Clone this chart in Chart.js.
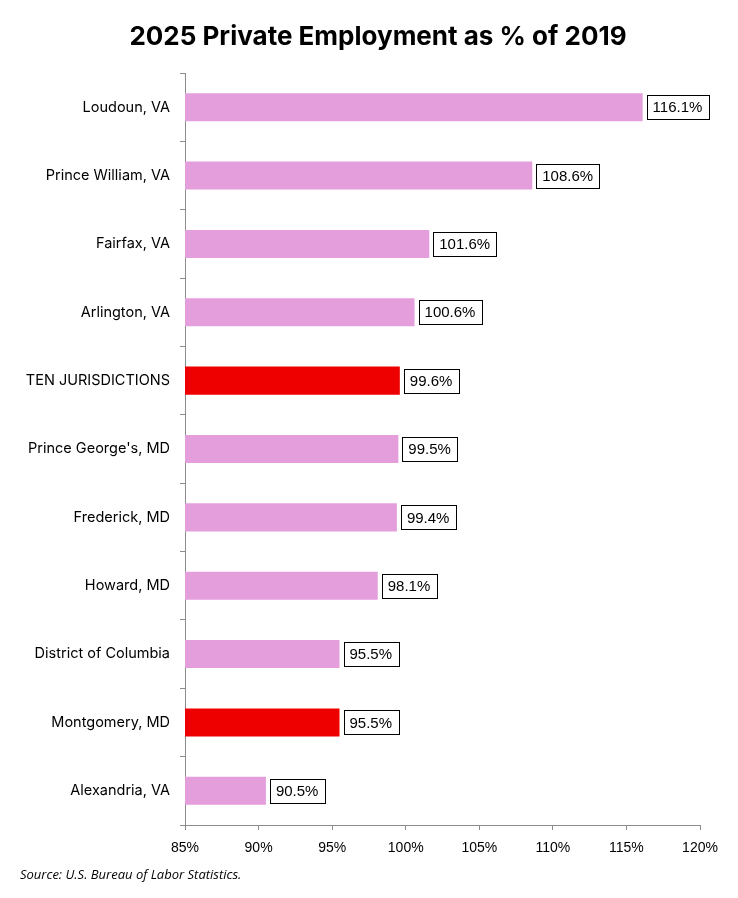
<!DOCTYPE html>
<html>
<head>
<meta charset="utf-8">
<script src="https://cdn.jsdelivr.net/npm/chart.js@4"></script>
<style>
html,body{margin:0;padding:0;background:#fff;}
#wrap{width:738px;height:898px;position:relative;}
</style>
</head>
<body>
<div id="wrap"><canvas id="mainChart"></canvas></div>
<script>
// data
const categories = ["Loudoun, VA","Prince William, VA","Fairfax, VA","Arlington, VA","TEN JURISDICTIONS",
  "Prince George's, MD","Frederick, MD","Howard, MD","District of Columbia","Montgomery, MD","Alexandria, VA"];
const values = [116.1,108.6,101.6,100.6,99.6,99.5,99.4,98.1,95.5,95.5,90.5];
const highlighted = ["TEN JURISDICTIONS","Montgomery, MD"];
const xTicks = [85,90,95,100,105,110,115,120];

const PINK = "#E49EDC", RED = "#EE0000", AXIS = "#8C8C8C";
const FONT = "Inter, 'Noto Sans', sans-serif";
const NUMFONT = "'Liberation Sans', Arial, sans-serif";

let barColors = categories.map(c => highlighted.includes(c) ? RED : PINK);

// boxed value labels at bar end
const boxLabels = {
  id:"boxLabels",
  afterDatasetsDraw(chart){
    let ctx = chart.ctx;
    let meta = chart.getDatasetMeta(0);
    ctx.save();
    ctx.font = "15px " + NUMFONT;
    ctx.textBaseline = "middle";
    meta.data.forEach((bar,i)=>{
      let txt = values[i].toFixed(1) + "%";
      let w = ctx.measureText(txt).width + 12;
      let h = 24;
      let x = bar.x + 4, y = bar.y - h/2;
      ctx.fillStyle = "#fff";
      ctx.fillRect(x,y,w,h);
      ctx.strokeStyle = "#000";
      ctx.lineWidth = 1;
      ctx.strokeRect(Math.round(x)+0.5,Math.round(y)+0.5,Math.round(w),h);
      ctx.fillStyle = "#000";
      ctx.fillText(txt, x+6, bar.y+1);
    });
    ctx.restore();
  }
};

// title centred on the page and the source note
const texts = {
  id:"texts",
  afterDraw(chart){
    let ctx = chart.ctx;
    ctx.save();
    ctx.fillStyle = "#000";
    ctx.textBaseline = "middle";
    ctx.textAlign = "center";
    ctx.font = "bold 26px " + FONT;
    ctx.fillText("2025 Private Employment as % of 2019", 378, 37);
    ctx.textAlign = "left";
    ctx.font = "italic 13px 'Open Sans', sans-serif";
    ctx.fillText("Source: U.S. Bureau of Labor Statistics.", 20, 875);
    ctx.restore();
  }
};

new Chart(document.getElementById("mainChart"), {
  type:"bar",
  data:{
    labels:categories,
    datasets:[{
      data:values,
      backgroundColor:barColors,
      barPercentage:0.41,
      categoryPercentage:1
    }]
  },
  options:{
    indexAxis:"y",
    responsive:true,
    maintainAspectRatio:false,
    animation:false,
    layout:{padding:{left:0,right:38,top:73,bottom:40}},
    plugins:{
      legend:{display:false},
      tooltip:{enabled:false},
      title:{display:false}
    },
    scales:{
      x:{
        min:85,max:120,
        afterBuildTicks(s){ s.ticks = xTicks.map(v=>({value:v})); },
        afterFit(s){ s.height = 33; },
        border:{color:AXIS},
        grid:{drawOnChartArea:false,tickLength:5,color:AXIS},
        ticks:{color:"#000",padding:10,font:{family:NUMFONT,size:14},callback:v=>v+"%"}
      },
      y:{
        afterFit(s){ s.width = 185; },
        border:{color:AXIS},
        grid:{drawOnChartArea:false,tickLength:5,color:AXIS,offset:true},
        ticks:{color:"#000",padding:10,font:{family:FONT,size:14.5}}
      }
    }
  },
  plugins:[boxLabels,texts]
});
</script>
</body>
</html>
